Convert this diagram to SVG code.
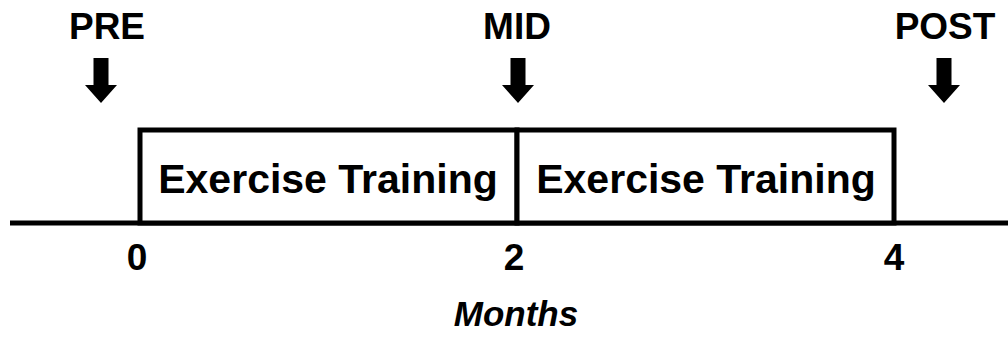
<svg xmlns="http://www.w3.org/2000/svg" width="1008" height="337" viewBox="0 0 1008 337">
  <style>
    text { font-family: "Liberation Sans", Arial, sans-serif; font-weight: bold; fill: #000; text-anchor: middle; }
    .lbl { font-size: 37px; }
    .box-text { font-size: 41px; }
    .tick { font-size: 37px; }
    .axis-title { font-size: 35px; font-style: italic; }
    .box { fill: #fff; stroke: #000; stroke-width: 5; }
    .line { stroke: #000; stroke-width: 5; fill: none; }
    .arrow { fill: #000; }
  </style>
  <defs>
    <path id="down" d="M -7.5 0 L 7.5 0 L 7.5 27 L 16 27 L 0 45 L -16 27 L -7.5 27 Z"/>
  </defs>
  <g id="connectors">
    <line class="line" x1="10" y1="223" x2="1008" y2="223"/>
  </g>
  <g id="phase1">
    <rect class="box" x="140" y="130" width="377" height="93"/>
    <text class="box-text" x="328" y="193">Exercise Training</text>
  </g>
  <g id="phase2">
    <rect class="box" x="517" y="130" width="377" height="93"/>
    <text class="box-text" x="706" y="193">Exercise Training</text>
  </g>
  <g id="pre">
    <text class="lbl" x="107" y="39">PRE</text>
    <use href="#down" class="arrow" x="101" y="58"/>
  </g>
  <g id="mid">
    <text class="lbl" x="517" y="39">MID</text>
    <use href="#down" class="arrow" x="518" y="58"/>
  </g>
  <g id="post">
    <text class="lbl" x="945" y="39">POST</text>
    <use href="#down" class="arrow" x="944" y="58"/>
  </g>
  <g id="ticks">
    <text class="tick" x="137" y="270">0</text>
    <text class="tick" x="514" y="270">2</text>
    <text class="tick" x="894" y="270">4</text>
  </g>
  <g id="axis-title">
    <text class="axis-title" x="516" y="326">Months</text>
  </g>
</svg>
